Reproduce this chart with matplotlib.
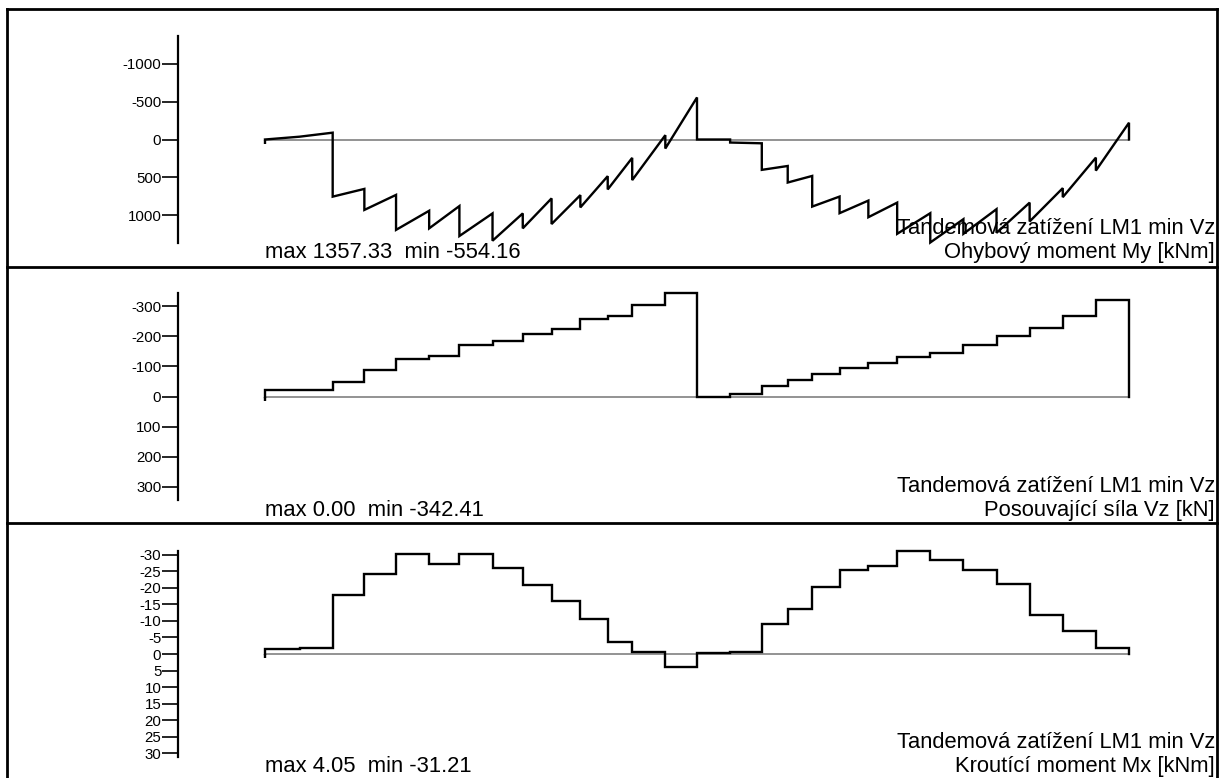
import matplotlib
matplotlib.use("Agg")
import matplotlib.pyplot as plt
from matplotlib.lines import Line2D

plt.rcParams["font.family"] = ["Liberation Sans", "DejaVu Sans"]
plt.rcParams["axes.unicode_minus"] = False

# Load positions along the two-span girder [m]
stations = [0.0, 2.4, 4.7, 6.9, 9.1, 11.4, 13.5, 15.8, 17.9, 19.9, 21.9, 23.8, 25.5, 27.8, 30.0,
            32.3, 34.5, 36.3, 38.0, 39.9, 41.9, 43.9, 46.2, 48.5, 50.8, 53.1, 55.4, 57.7, 60.0]

# Bending moment My [kNm]: value at the start and at the end of each segment
my_start = [0, -37, 753, 928, 1191, 1171, 1272, 1334, 1171, 1114, 895, 658, 535, 119,
            0, 40, 400, 567, 884, 971, 1024, 1243, 1357.33, 1243, 1230, 1080, 760, 410]
my_end = [-37, -90, 651, 730, 939, 877, 974, 974, 776, 733, 483, 242, -57, -554.16,
          0, 50, 349, 480, 752, 805, 832, 971, 1050, 918, 832, 641, 239, -221]

# Shear force Vz [kN]: constant level on each segment
vz_levels = [-22, -23, -48, -89, -124, -136, -172, -186, -208, -226, -256, -269, -303, -342.41,
             0, -9, -36, -56, -76, -96, -110, -131, -145, -172, -200, -228, -267, -322]

# Torsional moment Mx [kNm]: constant level on each segment
mx_levels = [-1.5, -1.7, -17.9, -24.2, -30.4, -27.2, -30.4, -26.0, -21.0, -16.2, -10.5, -3.7, -0.7, 4.05,
             -0.2, -0.5, -9.2, -13.7, -20.4, -25.4, -26.7, -31.21, -28.5, -25.4, -21.2, -11.7, -7.0, -1.9]

my_ticks = [-1000, -500, 0, 500, 1000]
vz_ticks = [-300, -200, -100, 0, 100, 200, 300]
mx_ticks = [-30, -25, -20, -15, -10, -5, 0, 5, 10, 15, 20, 25, 30]

load_case = "Tandemová zatížení LM1 min Vz"
titles = ["Ohybový moment My [kNm]", "Posouvající síla Vz [kN]", "Kroutící moment Mx [kNm]"]


def saw_path(xs, starts, ends):
    px, py = [xs[0]], [0.0]
    for i in range(len(starts)):
        px += [xs[i], xs[i + 1]]
        py += [starts[i], ends[i]]
    px.append(xs[-1])
    py.append(0.0)
    return px, py


def step_path(xs, levels):
    return saw_path(xs, levels, levels)


W, H = 1225, 778
fig = plt.figure(figsize=(W / 100, H / 100), dpi=100)


def fx(p):
    return p / W


def fy(p):
    return 1 - p / H


curves = [
    (saw_path(stations, my_start, my_end), my_start + my_end, my_ticks, 36.5),
    (step_path(stations, vz_levels), vz_levels, vz_ticks, 293.5),
    (step_path(stations, mx_levels), mx_levels, mx_ticks, 551.0),
]
panel_tops = [9, 267, 523]

for k, ((px, py), vals, ticks, top) in enumerate(curves):
    ax = fig.add_axes([fx(265), fy(top + 206), fx(864), 206 / H])
    vmax, vmin = max(vals), min(vals)
    lim = max(abs(vmax), abs(vmin))
    ax.set_xlim(stations[0], stations[-1])
    ax.set_ylim(lim, -lim)
    ax.patch.set_visible(False)
    for s in ("top", "right", "bottom"):
        ax.spines[s].set_visible(False)
    ax.spines["left"].set_position(("outward", 87 * 0.72))
    ax.spines["left"].set_linewidth(1.6)
    ax.set_xticks([])
    ax.set_yticks(ticks)
    ax.set_yticklabels([str(t) for t in ticks])
    ax.tick_params(axis="y", direction="out", length=11.5, width=1.2, pad=0.5,
                   labelsize=10.8, colors="black")

    ax.axhline(0, color="#808080", lw=1.2, zorder=1)
    ax.plot(px, py, color="black", lw=1.7, solid_joinstyle="miter", clip_on=False, zorder=3)
    ax.plot([stations[0]], [0], marker=[(0, 0), (0, -1)], ms=6, mew=1.7,
            color="black", clip_on=False, zorder=3)

    ptop = panel_tops[k]
    fig.text(fx(1215), fy(ptop + 225), load_case, ha="right", va="baseline", fontsize=15.8)
    fig.text(fx(1215), fy(ptop + 249), titles[k], ha="right", va="baseline", fontsize=15.8)
    fig.text(fx(265), fy(ptop + 249), f"max {vmax:.2f}  min {vmin:.2f}",
             ha="left", va="baseline", fontsize=15.8)

# Outer frame and panel separators
frame = dict(color="black", lw=2.0, transform=fig.transFigure, solid_capstyle="projecting")
fig.add_artist(Line2D([fx(7), fx(7)], [fy(9), fy(H + 2)], **frame))
fig.add_artist(Line2D([fx(1217), fx(1217)], [fy(9), fy(H + 2)], **frame))
for yy in (9, 267, 523):
    fig.add_artist(Line2D([fx(7), fx(1217)], [fy(yy), fy(yy)], **frame))

fig.savefig("out.png", dpi=100)
